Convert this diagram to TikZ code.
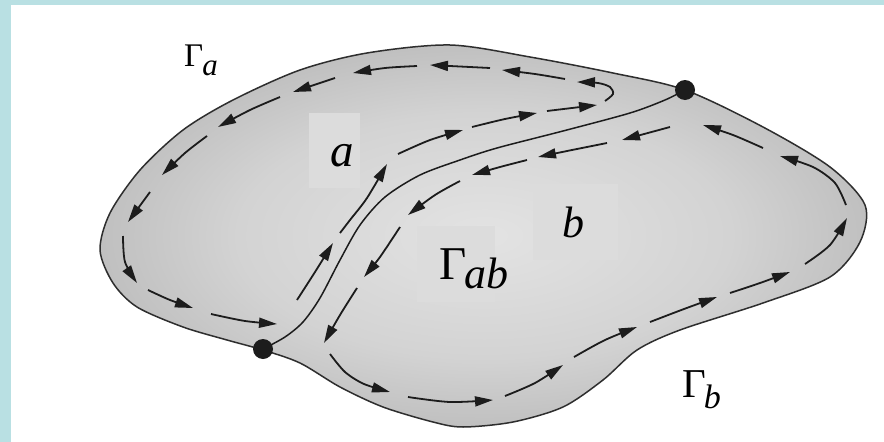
\documentclass[tikz,border=0pt]{standalone}
\usepackage{fontspec}
\newfontfamily\labfont{Liberation Serif}
\usetikzlibrary{arrows.meta}
\definecolor{frameteal}{HTML}{B9E0E3}
\definecolor{sh0}{HTML}{E3E3E3}
\definecolor{sh1}{HTML}{D3D3D3}
\definecolor{sh2}{HTML}{B5B5B5}
\definecolor{sh3}{HTML}{9B9B9B}
\definecolor{sh4}{HTML}{888888}
\definecolor{inkc}{HTML}{1C1C1C}
\definecolor{outlc}{HTML}{2E2E2E}
\definecolor{boxc}{HTML}{DCDCDC}
\pgfdeclareradialshading{blobshade}{\pgfpoint{0bp}{0bp}}{color(0bp)=(sh0); color(16bp)=(sh1); color(30bp)=(sh2); color(40bp)=(sh3); color(48bp)=(sh4); color(80bp)=(sh4)}
\newcommand{\fs}[1]{\fontsize{#1}{#1}\selectfont}
\newcommand{\dsh}[1]{\draw[flowseg] plot[smooth] coordinates {#1};}
\begin{document}
\begin{tikzpicture}[x=1pt,y=-1pt,
  flowseg/.style={draw=inkc, line width=1.8pt, -{Triangle[length=18pt,width=10pt]}},
  dotn/.style={circle, fill=inkc, minimum size=20pt, inner sep=0pt},
  labbox/.style={fill=boxc, inner sep=0pt},
  lab/.style={inner sep=0pt, text=black}]
\useasboundingbox (0,0) rectangle (884,442);
\fill[white] (0,0) rectangle (884,442);
\fill[frameteal] (0,0) rectangle (11,442);
\fill[frameteal] (0,0) rectangle (884,5);
% blob
\shadedraw[shading=blobshade, draw=outlc, line width=1.5pt]
  plot[smooth cycle] coordinates {(100,250) (113,283) (137,307) (183,327) (227,340) (263,350) (300,363) (340,387) (383,407) (433,422) (463,427) (513,422) (563,407) (603,380) (637,350) (680,330) (763,303) (830,277) (860,242) (865,205) (830,167) (763,127) (685,90) (613,73) (530,57) (450,45) (367,53) (300,70) (233,100) (183,130) (140,170) (110,213)};
\coordinate (P) at (263,349);
\coordinate (Q) at (685,90);
% divider
\draw[draw=inkc, line width=1.5pt] plot[smooth] coordinates {(P) (285,337) (303,322) (320,298) (340,260) (360,225) (385,197) (420,175) (460,160) (497,148) (563,131) (630,113) (665,100) (Q)};
% Gamma_a loop (dashes, each ending in an arrowhead)
\dsh{(297,300) (315,272) (333,243)}
\dsh{(340,233) (350,220) (367,198) (387,164)}
\dsh{(398,154) (430,140) (463,130)}
\dsh{(472,127) (505,119) (537,113)}
\dsh{(547,111) (597,105)}
\dsh{(605,101) (613,94) (610,87) (598,83) (577,82)}
\dsh{(565,79) (535,74) (502,70)}
\dsh{(490,68) (430,65)}
\dsh{(417,66) (385,68) (353,73)}
\dsh{(335,78) (293,92)}
\dsh{(280,97) (250,110) (218,127)}
\dsh{(207,136) (185,153) (162,175)}
\dsh{(150,192) (128,222)}
\dsh{(123,236) (125,262) (137,283)}
\dsh{(148,290) (170,300) (193,308)}
\dsh{(211,314) (245,321) (277,324)}
% Gamma_ab and Gamma_b loop
\dsh{(670,127) (622,140)}
\dsh{(607,143) (572,150) (538,157)}
\dsh{(527,160) (500,167) (472,175)}
\dsh{(460,181) (435,195) (408,215)}
\dsh{(400,227) (380,257) (364,277)}
\dsh{(357,288) (340,315) (324,343)}
\dsh{(330,354) (345,372) (364,384) (390,392)}
\dsh{(408,397) (450,402) (493,400)}
\dsh{(505,396) (535,383) (563,365)}
\dsh{(574,357) (605,340) (637,327)}
\dsh{(650,322) (684,309) (717,297)}
\dsh{(730,293) (760,283) (790,272)}
\dsh{(805,264) (830,245) (847,218)}
\dsh{(846,205) (835,183) (813,167) (780,156)}
\dsh{(763,148) (733,135) (703,125)}
\node[dotn] (dp) at (P) {};
\node[dotn] (dq) at (Q) {};
% label boxes
\node[labbox, minimum width=51pt, minimum height=75pt] (boxa) at (334.5,150.5) {};
\node[labbox, minimum width=78pt, minimum height=76pt] (boxab) at (456,264) {};
\node[labbox, minimum width=85pt, minimum height=76pt] (boxb) at (575.5,222) {};
% labels
\node[lab, anchor=base west, font=\labfont\fs{33}] (Ga) at (184,66) {Γ\kern-1pt\raisebox{-9pt}{\fs{31}\itshape a}};
\node[lab, anchor=base, font=\labfont\fs{47}\itshape] (la) at (342,166) {a};
\node[lab, anchor=base, font=\labfont\fs{44}\itshape] (lb) at (573,237) {b};
\node[lab, anchor=base west, font=\labfont\fs{47}] (Gab) at (439,279) {Γ\kern-2pt\raisebox{-9pt}{\fs{44}\itshape ab}};
\node[lab, anchor=base west, font=\labfont\fs{41}] (Gb) at (682,397) {Γ\kern-2pt\raisebox{-11pt}{\fs{34}\itshape b}};
\end{tikzpicture}
\end{document}
